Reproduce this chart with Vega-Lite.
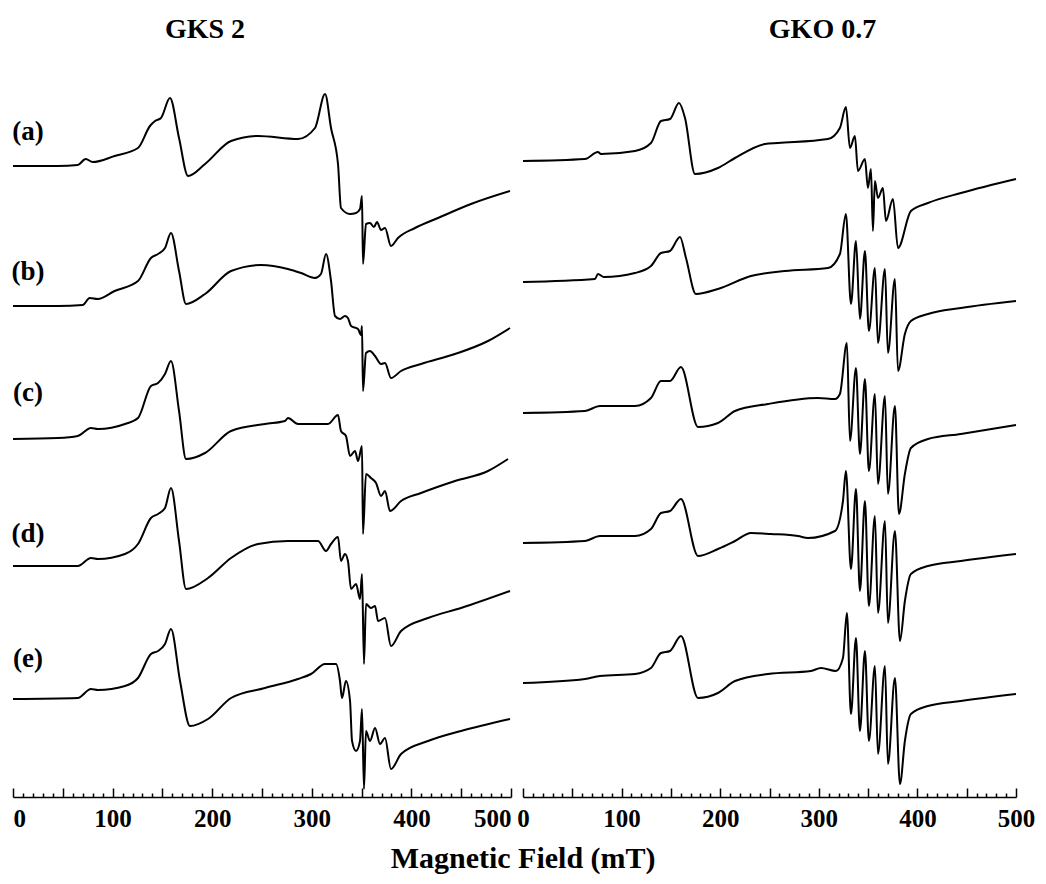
{
  "$schema": "https://vega.github.io/schema/vega-lite/v6.json",
  "background": "white",
  "padding": {"left": 11, "top": 16, "right": 5, "bottom": 5},
  "spacing": 12,
  "bounds": "flush",
  "title": {"text": "Magnetic Field (mT)", "orient": "bottom", "anchor": "middle", "font": "Liberation Serif", "fontSize": 30, "fontWeight": "bold", "color": "black", "offset": 8},
  "config": {"view": {"stroke": null}},
  "datasets": {
    "spectra": [
      {"sample":"GKS 2","trace":"a","field":0,"signal":631},{"sample":"GKS 2","trace":"a","field":45,"signal":631},{"sample":"GKS 2","trace":"a","field":65,"signal":632},{"sample":"GKS 2","trace":"a","field":73,"signal":638},{"sample":"GKS 2","trace":"a","field":80,"signal":635},{"sample":"GKS 2","trace":"a","field":102,"signal":641},{"sample":"GKS 2","trace":"a","field":125.5,"signal":649},{"sample":"GKS 2","trace":"a","field":137.5,"signal":671},{"sample":"GKS 2","trace":"a","field":142.6,"signal":676},{"sample":"GKS 2","trace":"a","field":148.6,"signal":679},{"sample":"GKS 2","trace":"a","field":157.6,"signal":699},{"sample":"GKS 2","trace":"a","field":166.7,"signal":659},{"sample":"GKS 2","trace":"a","field":175.7,"signal":621},{"sample":"GKS 2","trace":"a","field":192.8,"signal":633},{"sample":"GKS 2","trace":"a","field":218.9,"signal":656},{"sample":"GKS 2","trace":"a","field":246,"signal":661},{"sample":"GKS 2","trace":"a","field":286.1,"signal":658},{"sample":"GKS 2","trace":"a","field":303.2,"signal":669},{"sample":"GKS 2","trace":"a","field":313.3,"signal":703},{"sample":"GKS 2","trace":"a","field":319.3,"signal":669},{"sample":"GKS 2","trace":"a","field":326.3,"signal":633},{"sample":"GKS 2","trace":"a","field":329.3,"signal":589},{"sample":"GKS 2","trace":"a","field":338.4,"signal":583},{"sample":"GKS 2","trace":"a","field":344.4,"signal":584},{"sample":"GKS 2","trace":"a","field":348.4,"signal":588},{"sample":"GKS 2","trace":"a","field":350.4,"signal":601},{"sample":"GKS 2","trace":"a","field":351.4,"signal":533},{"sample":"GKS 2","trace":"a","field":354.4,"signal":573},{"sample":"GKS 2","trace":"a","field":358.4,"signal":574},{"sample":"GKS 2","trace":"a","field":362.4,"signal":570},{"sample":"GKS 2","trace":"a","field":365.5,"signal":575},{"sample":"GKS 2","trace":"a","field":369.5,"signal":567},{"sample":"GKS 2","trace":"a","field":373.5,"signal":569},{"sample":"GKS 2","trace":"a","field":379.5,"signal":551},{"sample":"GKS 2","trace":"a","field":386.5,"signal":559},{"sample":"GKS 2","trace":"a","field":403.6,"signal":569},{"sample":"GKS 2","trace":"a","field":426.7,"signal":579},{"sample":"GKS 2","trace":"a","field":459.8,"signal":593},{"sample":"GKS 2","trace":"a","field":499,"signal":606},

      {"sample":"GKS 2","trace":"b","field":0,"signal":491},{"sample":"GKS 2","trace":"b","field":45,"signal":491},{"sample":"GKS 2","trace":"b","field":70,"signal":492},{"sample":"GKS 2","trace":"b","field":77,"signal":499},{"sample":"GKS 2","trace":"b","field":85,"signal":498},{"sample":"GKS 2","trace":"b","field":102,"signal":506},{"sample":"GKS 2","trace":"b","field":125.5,"signal":516},{"sample":"GKS 2","trace":"b","field":138.5,"signal":539},{"sample":"GKS 2","trace":"b","field":145.6,"signal":543},{"sample":"GKS 2","trace":"b","field":152.6,"signal":549},{"sample":"GKS 2","trace":"b","field":158.6,"signal":564},{"sample":"GKS 2","trace":"b","field":166.7,"signal":526},{"sample":"GKS 2","trace":"b","field":173.7,"signal":493},{"sample":"GKS 2","trace":"b","field":192.8,"signal":503},{"sample":"GKS 2","trace":"b","field":218.9,"signal":526},{"sample":"GKS 2","trace":"b","field":249,"signal":532},{"sample":"GKS 2","trace":"b","field":276,"signal":528},{"sample":"GKS 2","trace":"b","field":289.2,"signal":524},{"sample":"GKS 2","trace":"b","field":303.2,"signal":519},{"sample":"GKS 2","trace":"b","field":309.2,"signal":523},{"sample":"GKS 2","trace":"b","field":314.3,"signal":543},{"sample":"GKS 2","trace":"b","field":319.3,"signal":516},{"sample":"GKS 2","trace":"b","field":323.3,"signal":481},{"sample":"GKS 2","trace":"b","field":328.3,"signal":478},{"sample":"GKS 2","trace":"b","field":333.3,"signal":481},{"sample":"GKS 2","trace":"b","field":336.3,"signal":479},{"sample":"GKS 2","trace":"b","field":339.4,"signal":471},{"sample":"GKS 2","trace":"b","field":346.4,"signal":468},{"sample":"GKS 2","trace":"b","field":349.4,"signal":462},{"sample":"GKS 2","trace":"b","field":350.4,"signal":471},{"sample":"GKS 2","trace":"b","field":351.4,"signal":406},{"sample":"GKS 2","trace":"b","field":354.4,"signal":444},{"sample":"GKS 2","trace":"b","field":358.4,"signal":446},{"sample":"GKS 2","trace":"b","field":363.5,"signal":441},{"sample":"GKS 2","trace":"b","field":369.5,"signal":433},{"sample":"GKS 2","trace":"b","field":373.5,"signal":434},{"sample":"GKS 2","trace":"b","field":379.5,"signal":419},{"sample":"GKS 2","trace":"b","field":389.6,"signal":426},{"sample":"GKS 2","trace":"b","field":409.6,"signal":433},{"sample":"GKS 2","trace":"b","field":443.8,"signal":443},{"sample":"GKS 2","trace":"b","field":476.9,"signal":456},{"sample":"GKS 2","trace":"b","field":499,"signal":469},

      {"sample":"GKS 2","trace":"c","field":0,"signal":358},{"sample":"GKS 2","trace":"c","field":45,"signal":359},{"sample":"GKS 2","trace":"c","field":65,"signal":361},{"sample":"GKS 2","trace":"c","field":78.3,"signal":369},{"sample":"GKS 2","trace":"c","field":85.3,"signal":368},{"sample":"GKS 2","trace":"c","field":112.4,"signal":373},{"sample":"GKS 2","trace":"c","field":125.5,"signal":379},{"sample":"GKS 2","trace":"c","field":138.5,"signal":411},{"sample":"GKS 2","trace":"c","field":145.6,"signal":414},{"sample":"GKS 2","trace":"c","field":152.6,"signal":423},{"sample":"GKS 2","trace":"c","field":158.6,"signal":436},{"sample":"GKS 2","trace":"c","field":166.7,"signal":386},{"sample":"GKS 2","trace":"c","field":173.7,"signal":338},{"sample":"GKS 2","trace":"c","field":192.8,"signal":344},{"sample":"GKS 2","trace":"c","field":218.9,"signal":366},{"sample":"GKS 2","trace":"c","field":253,"signal":373},{"sample":"GKS 2","trace":"c","field":273.1,"signal":376},{"sample":"GKS 2","trace":"c","field":276.1,"signal":379},{"sample":"GKS 2","trace":"c","field":286.1,"signal":373},{"sample":"GKS 2","trace":"c","field":316.3,"signal":373},{"sample":"GKS 2","trace":"c","field":326.3,"signal":382},{"sample":"GKS 2","trace":"c","field":329.3,"signal":366},{"sample":"GKS 2","trace":"c","field":334.3,"signal":361},{"sample":"GKS 2","trace":"c","field":338.4,"signal":341},{"sample":"GKS 2","trace":"c","field":343.4,"signal":346},{"sample":"GKS 2","trace":"c","field":346.4,"signal":336},{"sample":"GKS 2","trace":"c","field":350.4,"signal":351},{"sample":"GKS 2","trace":"c","field":351.4,"signal":263},{"sample":"GKS 2","trace":"c","field":354.4,"signal":323},{"sample":"GKS 2","trace":"c","field":359.4,"signal":319},{"sample":"GKS 2","trace":"c","field":364.5,"signal":314},{"sample":"GKS 2","trace":"c","field":369.5,"signal":301},{"sample":"GKS 2","trace":"c","field":373.5,"signal":306},{"sample":"GKS 2","trace":"c","field":378.5,"signal":286},{"sample":"GKS 2","trace":"c","field":389.6,"signal":296},{"sample":"GKS 2","trace":"c","field":409.6,"signal":304},{"sample":"GKS 2","trace":"c","field":443.8,"signal":316},{"sample":"GKS 2","trace":"c","field":476.9,"signal":326},{"sample":"GKS 2","trace":"c","field":497,"signal":338},

      {"sample":"GKS 2","trace":"d","field":0,"signal":231},{"sample":"GKS 2","trace":"d","field":65,"signal":231},{"sample":"GKS 2","trace":"d","field":78.3,"signal":239},{"sample":"GKS 2","trace":"d","field":85.3,"signal":238},{"sample":"GKS 2","trace":"d","field":112.4,"signal":243},{"sample":"GKS 2","trace":"d","field":125.5,"signal":253},{"sample":"GKS 2","trace":"d","field":138.5,"signal":279},{"sample":"GKS 2","trace":"d","field":145.6,"signal":283},{"sample":"GKS 2","trace":"d","field":152.6,"signal":289},{"sample":"GKS 2","trace":"d","field":158.6,"signal":309},{"sample":"GKS 2","trace":"d","field":166.7,"signal":256},{"sample":"GKS 2","trace":"d","field":173.7,"signal":208},{"sample":"GKS 2","trace":"d","field":195.8,"signal":219},{"sample":"GKS 2","trace":"d","field":218.9,"signal":239},{"sample":"GKS 2","trace":"d","field":246,"signal":253},{"sample":"GKS 2","trace":"d","field":276.1,"signal":256},{"sample":"GKS 2","trace":"d","field":306.2,"signal":256},{"sample":"GKS 2","trace":"d","field":314.3,"signal":246},{"sample":"GKS 2","trace":"d","field":319.3,"signal":253},{"sample":"GKS 2","trace":"d","field":326.3,"signal":260},{"sample":"GKS 2","trace":"d","field":329.3,"signal":236},{"sample":"GKS 2","trace":"d","field":333.3,"signal":243},{"sample":"GKS 2","trace":"d","field":336.3,"signal":236},{"sample":"GKS 2","trace":"d","field":339.4,"signal":208},{"sample":"GKS 2","trace":"d","field":344.4,"signal":213},{"sample":"GKS 2","trace":"d","field":348.4,"signal":198},{"sample":"GKS 2","trace":"d","field":350.4,"signal":223},{"sample":"GKS 2","trace":"d","field":352.4,"signal":133},{"sample":"GKS 2","trace":"d","field":354.4,"signal":193},{"sample":"GKS 2","trace":"d","field":359.4,"signal":189},{"sample":"GKS 2","trace":"d","field":363.5,"signal":191},{"sample":"GKS 2","trace":"d","field":366.5,"signal":176},{"sample":"GKS 2","trace":"d","field":373.5,"signal":179},{"sample":"GKS 2","trace":"d","field":379.5,"signal":151},{"sample":"GKS 2","trace":"d","field":389.6,"signal":166},{"sample":"GKS 2","trace":"d","field":416.7,"signal":179},{"sample":"GKS 2","trace":"d","field":449.8,"signal":189},{"sample":"GKS 2","trace":"d","field":499,"signal":206},

      {"sample":"GKS 2","trace":"e","field":0,"signal":98},{"sample":"GKS 2","trace":"e","field":65,"signal":99},{"sample":"GKS 2","trace":"e","field":78.3,"signal":108},{"sample":"GKS 2","trace":"e","field":85.3,"signal":107},{"sample":"GKS 2","trace":"e","field":112.4,"signal":111},{"sample":"GKS 2","trace":"e","field":125.5,"signal":119},{"sample":"GKS 2","trace":"e","field":138.5,"signal":143},{"sample":"GKS 2","trace":"e","field":145.6,"signal":146},{"sample":"GKS 2","trace":"e","field":152.6,"signal":153},{"sample":"GKS 2","trace":"e","field":158.6,"signal":168},{"sample":"GKS 2","trace":"e","field":167.7,"signal":116},{"sample":"GKS 2","trace":"e","field":177.7,"signal":71},{"sample":"GKS 2","trace":"e","field":195.8,"signal":78},{"sample":"GKS 2","trace":"e","field":218.9,"signal":99},{"sample":"GKS 2","trace":"e","field":253,"signal":109},{"sample":"GKS 2","trace":"e","field":286.1,"signal":118},{"sample":"GKS 2","trace":"e","field":299.2,"signal":123},{"sample":"GKS 2","trace":"e","field":313.3,"signal":133},{"sample":"GKS 2","trace":"e","field":324.3,"signal":133},{"sample":"GKS 2","trace":"e","field":328.3,"signal":116},{"sample":"GKS 2","trace":"e","field":330.3,"signal":99},{"sample":"GKS 2","trace":"e","field":334.3,"signal":116},{"sample":"GKS 2","trace":"e","field":338.4,"signal":96},{"sample":"GKS 2","trace":"e","field":340.4,"signal":56},{"sample":"GKS 2","trace":"e","field":344.4,"signal":46},{"sample":"GKS 2","trace":"e","field":348.4,"signal":56},{"sample":"GKS 2","trace":"e","field":350.4,"signal":88},{"sample":"GKS 2","trace":"e","field":352.4,"signal":8},{"sample":"GKS 2","trace":"e","field":354.4,"signal":66},{"sample":"GKS 2","trace":"e","field":358.4,"signal":56},{"sample":"GKS 2","trace":"e","field":363.5,"signal":69},{"sample":"GKS 2","trace":"e","field":368.5,"signal":53},{"sample":"GKS 2","trace":"e","field":373.5,"signal":59},{"sample":"GKS 2","trace":"e","field":379.5,"signal":28},{"sample":"GKS 2","trace":"e","field":389.6,"signal":43},{"sample":"GKS 2","trace":"e","field":416.7,"signal":56},{"sample":"GKS 2","trace":"e","field":449.8,"signal":66},{"sample":"GKS 2","trace":"e","field":499,"signal":78},

      {"sample":"GKO 0.7","trace":"a","field":0,"signal":636},{"sample":"GKO 0.7","trace":"a","field":62.9,"signal":638},{"sample":"GKO 0.7","trace":"a","field":76,"signal":645},{"sample":"GKO 0.7","trace":"a","field":79.1,"signal":643},{"sample":"GKO 0.7","trace":"a","field":113.6,"signal":646},{"sample":"GKO 0.7","trace":"a","field":129.8,"signal":654},{"sample":"GKO 0.7","trace":"a","field":139.9,"signal":676},{"sample":"GKO 0.7","trace":"a","field":149.1,"signal":678},{"sample":"GKO 0.7","trace":"a","field":158.2,"signal":694},{"sample":"GKO 0.7","trace":"a","field":164.3,"signal":679},{"sample":"GKO 0.7","trace":"a","field":174.4,"signal":623},{"sample":"GKO 0.7","trace":"a","field":197.7,"signal":629},{"sample":"GKO 0.7","trace":"a","field":215,"signal":639},{"sample":"GKO 0.7","trace":"a","field":245.4,"signal":653},{"sample":"GKO 0.7","trace":"a","field":258.6,"signal":654},{"sample":"GKO 0.7","trace":"a","field":309.3,"signal":658},{"sample":"GKO 0.7","trace":"a","field":321.4,"signal":669},{"sample":"GKO 0.7","trace":"a","field":327.5,"signal":690},{"sample":"GKO 0.7","trace":"a","field":331.6,"signal":649},{"sample":"GKO 0.7","trace":"a","field":336.6,"signal":661},{"sample":"GKO 0.7","trace":"a","field":339.7,"signal":626},{"sample":"GKO 0.7","trace":"a","field":346.8,"signal":638},{"sample":"GKO 0.7","trace":"a","field":349.8,"signal":609},{"sample":"GKO 0.7","trace":"a","field":352.9,"signal":628},{"sample":"GKO 0.7","trace":"a","field":354.9,"signal":566},{"sample":"GKO 0.7","trace":"a","field":356.9,"signal":616},{"sample":"GKO 0.7","trace":"a","field":360,"signal":599},{"sample":"GKO 0.7","trace":"a","field":365,"signal":609},{"sample":"GKO 0.7","trace":"a","field":368.1,"signal":576},{"sample":"GKO 0.7","trace":"a","field":375.2,"signal":598},{"sample":"GKO 0.7","trace":"a","field":380.3,"signal":549},{"sample":"GKO 0.7","trace":"a","field":393.4,"signal":586},{"sample":"GKO 0.7","trace":"a","field":410.7,"signal":594},{"sample":"GKO 0.7","trace":"a","field":444.1,"signal":604},{"sample":"GKO 0.7","trace":"a","field":500,"signal":618},

      {"sample":"GKO 0.7","trace":"b","field":0,"signal":515},{"sample":"GKO 0.7","trace":"b","field":73,"signal":518},{"sample":"GKO 0.7","trace":"b","field":76,"signal":523},{"sample":"GKO 0.7","trace":"b","field":82,"signal":520},{"sample":"GKO 0.7","trace":"b","field":113.6,"signal":524},{"sample":"GKO 0.7","trace":"b","field":129.8,"signal":531},{"sample":"GKO 0.7","trace":"b","field":139.9,"signal":544},{"sample":"GKO 0.7","trace":"b","field":149.1,"signal":546},{"sample":"GKO 0.7","trace":"b","field":159.2,"signal":560},{"sample":"GKO 0.7","trace":"b","field":165.3,"signal":539},{"sample":"GKO 0.7","trace":"b","field":175.4,"signal":503},{"sample":"GKO 0.7","trace":"b","field":197.7,"signal":508},{"sample":"GKO 0.7","trace":"b","field":231.2,"signal":521},{"sample":"GKO 0.7","trace":"b","field":265.7,"signal":526},{"sample":"GKO 0.7","trace":"b","field":309.3,"signal":529},{"sample":"GKO 0.7","trace":"b","field":321.4,"signal":543},{"sample":"GKO 0.7","trace":"b","field":327.5,"signal":583},{"sample":"GKO 0.7","trace":"b","field":332.6,"signal":493},{"sample":"GKO 0.7","trace":"b","field":337.7,"signal":556},{"sample":"GKO 0.7","trace":"b","field":341.7,"signal":478},{"sample":"GKO 0.7","trace":"b","field":346.8,"signal":546},{"sample":"GKO 0.7","trace":"b","field":350.8,"signal":466},{"sample":"GKO 0.7","trace":"b","field":356.9,"signal":529},{"sample":"GKO 0.7","trace":"b","field":360,"signal":454},{"sample":"GKO 0.7","trace":"b","field":367.1,"signal":528},{"sample":"GKO 0.7","trace":"b","field":370.1,"signal":444},{"sample":"GKO 0.7","trace":"b","field":377.2,"signal":518},{"sample":"GKO 0.7","trace":"b","field":380.3,"signal":426},{"sample":"GKO 0.7","trace":"b","field":387.3,"signal":463},{"sample":"GKO 0.7","trace":"b","field":393.4,"signal":476},{"sample":"GKO 0.7","trace":"b","field":410.7,"signal":483},{"sample":"GKO 0.7","trace":"b","field":444.1,"signal":489},{"sample":"GKO 0.7","trace":"b","field":500,"signal":496},

      {"sample":"GKO 0.7","trace":"c","field":0,"signal":384},{"sample":"GKO 0.7","trace":"c","field":62.9,"signal":386},{"sample":"GKO 0.7","trace":"c","field":78,"signal":391},{"sample":"GKO 0.7","trace":"c","field":113.6,"signal":391},{"sample":"GKO 0.7","trace":"c","field":129.8,"signal":399},{"sample":"GKO 0.7","trace":"c","field":139.9,"signal":416},{"sample":"GKO 0.7","trace":"c","field":149.1,"signal":416},{"sample":"GKO 0.7","trace":"c","field":160.2,"signal":430},{"sample":"GKO 0.7","trace":"c","field":177.5,"signal":370},{"sample":"GKO 0.7","trace":"c","field":197.7,"signal":374},{"sample":"GKO 0.7","trace":"c","field":215,"signal":386},{"sample":"GKO 0.7","trace":"c","field":248.4,"signal":393},{"sample":"GKO 0.7","trace":"c","field":299.1,"signal":399},{"sample":"GKO 0.7","trace":"c","field":316.4,"signal":398},{"sample":"GKO 0.7","trace":"c","field":321.4,"signal":403},{"sample":"GKO 0.7","trace":"c","field":328.5,"signal":454},{"sample":"GKO 0.7","trace":"c","field":331.6,"signal":356},{"sample":"GKO 0.7","trace":"c","field":337.7,"signal":429},{"sample":"GKO 0.7","trace":"c","field":341.7,"signal":343},{"sample":"GKO 0.7","trace":"c","field":346.8,"signal":418},{"sample":"GKO 0.7","trace":"c","field":350.8,"signal":326},{"sample":"GKO 0.7","trace":"c","field":356.9,"signal":403},{"sample":"GKO 0.7","trace":"c","field":360,"signal":313},{"sample":"GKO 0.7","trace":"c","field":367.1,"signal":401},{"sample":"GKO 0.7","trace":"c","field":370.1,"signal":303},{"sample":"GKO 0.7","trace":"c","field":377.2,"signal":391},{"sample":"GKO 0.7","trace":"c","field":381.3,"signal":283},{"sample":"GKO 0.7","trace":"c","field":387.3,"signal":323},{"sample":"GKO 0.7","trace":"c","field":393.4,"signal":349},{"sample":"GKO 0.7","trace":"c","field":410.7,"signal":358},{"sample":"GKO 0.7","trace":"c","field":444.1,"signal":363},{"sample":"GKO 0.7","trace":"c","field":500,"signal":372},

      {"sample":"GKO 0.7","trace":"d","field":0,"signal":254},{"sample":"GKO 0.7","trace":"d","field":62.9,"signal":256},{"sample":"GKO 0.7","trace":"d","field":78,"signal":261},{"sample":"GKO 0.7","trace":"d","field":113.6,"signal":261},{"sample":"GKO 0.7","trace":"d","field":129.8,"signal":268},{"sample":"GKO 0.7","trace":"d","field":139.9,"signal":284},{"sample":"GKO 0.7","trace":"d","field":149.1,"signal":286},{"sample":"GKO 0.7","trace":"d","field":160.2,"signal":298},{"sample":"GKO 0.7","trace":"d","field":177.5,"signal":241},{"sample":"GKO 0.7","trace":"d","field":197.7,"signal":248},{"sample":"GKO 0.7","trace":"d","field":215,"signal":256},{"sample":"GKO 0.7","trace":"d","field":231.2,"signal":264},{"sample":"GKO 0.7","trace":"d","field":251.5,"signal":263},{"sample":"GKO 0.7","trace":"d","field":278.9,"signal":261},{"sample":"GKO 0.7","trace":"d","field":289,"signal":259},{"sample":"GKO 0.7","trace":"d","field":316.4,"signal":266},{"sample":"GKO 0.7","trace":"d","field":324.5,"signal":296},{"sample":"GKO 0.7","trace":"d","field":327.5,"signal":326},{"sample":"GKO 0.7","trace":"d","field":332.6,"signal":228},{"sample":"GKO 0.7","trace":"d","field":337.7,"signal":308},{"sample":"GKO 0.7","trace":"d","field":341.7,"signal":206},{"sample":"GKO 0.7","trace":"d","field":346.8,"signal":296},{"sample":"GKO 0.7","trace":"d","field":350.8,"signal":191},{"sample":"GKO 0.7","trace":"d","field":356.9,"signal":281},{"sample":"GKO 0.7","trace":"d","field":360,"signal":184},{"sample":"GKO 0.7","trace":"d","field":367.1,"signal":276},{"sample":"GKO 0.7","trace":"d","field":370.1,"signal":174},{"sample":"GKO 0.7","trace":"d","field":377.2,"signal":266},{"sample":"GKO 0.7","trace":"d","field":382.3,"signal":156},{"sample":"GKO 0.7","trace":"d","field":387.3,"signal":196},{"sample":"GKO 0.7","trace":"d","field":393.4,"signal":223},{"sample":"GKO 0.7","trace":"d","field":410.7,"signal":231},{"sample":"GKO 0.7","trace":"d","field":444.1,"signal":236},{"sample":"GKO 0.7","trace":"d","field":500,"signal":243},

      {"sample":"GKO 0.7","trace":"e","field":0,"signal":114},{"sample":"GKO 0.7","trace":"e","field":62.9,"signal":118},{"sample":"GKO 0.7","trace":"e","field":78,"signal":121},{"sample":"GKO 0.7","trace":"e","field":113.6,"signal":123},{"sample":"GKO 0.7","trace":"e","field":129.8,"signal":129},{"sample":"GKO 0.7","trace":"e","field":139.9,"signal":144},{"sample":"GKO 0.7","trace":"e","field":149.1,"signal":146},{"sample":"GKO 0.7","trace":"e","field":160.2,"signal":161},{"sample":"GKO 0.7","trace":"e","field":177.5,"signal":99},{"sample":"GKO 0.7","trace":"e","field":197.7,"signal":104},{"sample":"GKO 0.7","trace":"e","field":215,"signal":116},{"sample":"GKO 0.7","trace":"e","field":248.4,"signal":123},{"sample":"GKO 0.7","trace":"e","field":292,"signal":126},{"sample":"GKO 0.7","trace":"e","field":302.2,"signal":129},{"sample":"GKO 0.7","trace":"e","field":317.4,"signal":126},{"sample":"GKO 0.7","trace":"e","field":324.5,"signal":139},{"sample":"GKO 0.7","trace":"e","field":328.5,"signal":184},{"sample":"GKO 0.7","trace":"e","field":332.6,"signal":83},{"sample":"GKO 0.7","trace":"e","field":337.7,"signal":159},{"sample":"GKO 0.7","trace":"e","field":341.7,"signal":66},{"sample":"GKO 0.7","trace":"e","field":346.8,"signal":146},{"sample":"GKO 0.7","trace":"e","field":350.8,"signal":56},{"sample":"GKO 0.7","trace":"e","field":356.9,"signal":131},{"sample":"GKO 0.7","trace":"e","field":360,"signal":43},{"sample":"GKO 0.7","trace":"e","field":367.1,"signal":131},{"sample":"GKO 0.7","trace":"e","field":370.1,"signal":33},{"sample":"GKO 0.7","trace":"e","field":377.2,"signal":119},{"sample":"GKO 0.7","trace":"e","field":382.3,"signal":13},{"sample":"GKO 0.7","trace":"e","field":387.3,"signal":56},{"sample":"GKO 0.7","trace":"e","field":393.4,"signal":83},{"sample":"GKO 0.7","trace":"e","field":410.7,"signal":91},{"sample":"GKO 0.7","trace":"e","field":444.1,"signal":96},{"sample":"GKO 0.7","trace":"e","field":500,"signal":103}
    ],
    "labels": [
      {"label":"(a)","field":15,"signal":665},
      {"label":"(b)","field":15,"signal":525},
      {"label":"(c)","field":15,"signal":404},
      {"label":"(d)","field":15,"signal":263},
      {"label":"(e)","field":15,"signal":138}
    ]
  },
  "hconcat": [
    {
      "width": 498,
      "height": 720,
      "title": {"text": "GKS 2", "anchor": "middle", "dx": -57, "offset": 33, "font": "Liberation Serif", "fontSize": 28, "fontWeight": "bold", "color": "black"},
      "encoding": {
        "x": {"field": "field", "type": "quantitative", "scale": {"domain": [0, 500], "nice": false, "zero": false},
          "axis": {"title": null, "grid": false, "values": [0,10,20,30,40,50,60,70,80,90,100,110,120,130,140,150,160,170,180,190,200,210,220,230,240,250,260,270,280,290,300,310,320,330,340,350,360,370,380,390,400,410,420,430,440,450,460,470,480,490,500],
            "labelExpr": "datum.value % 100 === 0 ? datum.label : ''", "labelOverlap": false, "labelFlush": true,
            "tickSize": {"condition": {"test": "datum.value % 50 === 0", "value": -9}, "value": -4},
            "tickColor": "black", "tickWidth": 1.5, "domainColor": "black", "domainWidth": 1.5,
            "labelFont": "Liberation Serif", "labelFontSize": 25, "labelFontWeight": "bold", "labelColor": "black", "labelPadding": 18}},
        "y": {"field": "signal", "type": "quantitative", "scale": {"domain": [0, 720], "nice": false, "zero": false}, "axis": null}
      },
      "layer": [
        {
          "data": {"name": "spectra"},
          "transform": [{"filter": "datum.sample === 'GKS 2'"}],
          "mark": {"type": "line", "color": "black", "strokeWidth": 2, "strokeJoin": "round", "interpolate": "monotone"},
          "encoding": {"detail": {"field": "trace"}}
        },
        {
          "data": {"name": "labels"},
          "mark": {"type": "text", "font": "Liberation Serif", "fontSize": 27, "fontWeight": "bold", "color": "black", "align": "center", "baseline": "middle"},
          "encoding": {"text": {"field": "label"}}
        }
      ]
    },
    {
      "width": 493,
      "height": 720,
      "title": {"text": "GKO 0.7", "anchor": "middle", "dx": 53, "offset": 33, "font": "Liberation Serif", "fontSize": 28, "fontWeight": "bold", "color": "black"},
      "layer": [
        {
          "data": {"name": "spectra"},
          "transform": [{"filter": "datum.sample === 'GKO 0.7'"}],
          "mark": {"type": "line", "color": "black", "strokeWidth": 2, "strokeJoin": "round", "interpolate": "monotone"},
          "encoding": {
            "x": {"field": "field", "type": "quantitative", "scale": {"domain": [0, 500], "nice": false, "zero": false},
              "axis": {"title": null, "grid": false, "values": [0,10,20,30,40,50,60,70,80,90,100,110,120,130,140,150,160,170,180,190,200,210,220,230,240,250,260,270,280,290,300,310,320,330,340,350,360,370,380,390,400,410,420,430,440,450,460,470,480,490,500],
                "labelExpr": "datum.value % 100 === 0 ? datum.label : ''", "labelOverlap": false, "labelFlush": false,
                "tickSize": {"condition": {"test": "datum.value % 50 === 0", "value": -9}, "value": -4},
                "tickColor": "black", "tickWidth": 1.5, "domainColor": "black", "domainWidth": 1.5,
                "labelFont": "Liberation Serif", "labelFontSize": 25, "labelFontWeight": "bold", "labelColor": "black", "labelPadding": 18}},
            "y": {"field": "signal", "type": "quantitative", "scale": {"domain": [0, 720], "nice": false, "zero": false}, "axis": null},
            "detail": {"field": "trace"}
          }
        }
      ]
    }
  ]
}
